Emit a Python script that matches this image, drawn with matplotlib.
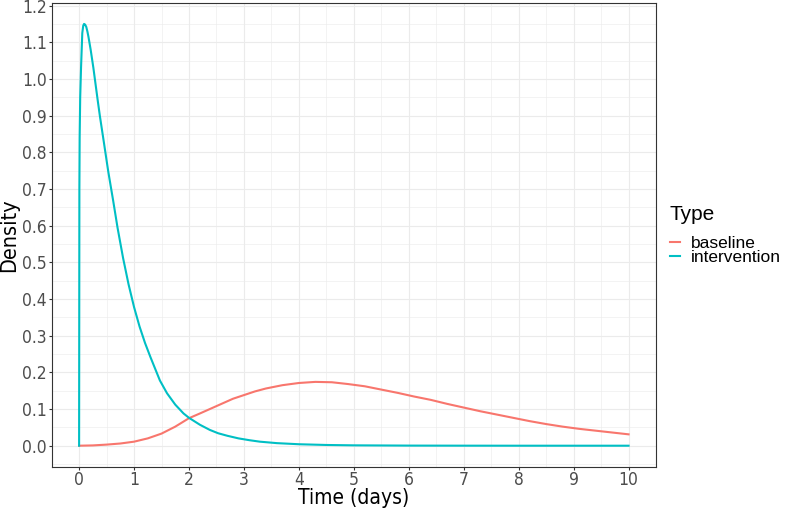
import numpy as np
import matplotlib.pyplot as plt
from matplotlib.ticker import MultipleLocator

plt.rcParams['font.family'] = ['Liberation Sans Narrow', 'DejaVu Sans']
plt.rcParams['font.stretch'] = 'condensed'

# values
t_base = [0, 0.25, 0.5, 0.75, 1.0, 1.25, 1.5, 1.75, 2.0, 2.2, 2.5, 2.8, 3.0, 3.2, 3.4,
          3.7, 4.0, 4.3, 4.6, 4.9, 5.2, 5.5, 5.8, 6.1, 6.4, 6.7, 7.0, 7.3, 7.6,
          7.9, 8.2, 8.5, 8.8, 9.1, 9.4, 9.7, 10.0]
y_base = [0, 0.0008, 0.003, 0.006, 0.011, 0.020, 0.033, 0.052, 0.075, 0.088, 0.108,
          0.128, 0.138, 0.148, 0.156, 0.165, 0.171, 0.174, 0.173, 0.168, 0.162,
          0.153, 0.144, 0.134, 0.125, 0.114, 0.104, 0.094, 0.085, 0.076, 0.067,
          0.059, 0.052, 0.046, 0.041, 0.036, 0.031]

t_int = [0, 0.005, 0.01, 0.02, 0.036, 0.058, 0.075, 0.09, 0.11, 0.13, 0.15, 0.17,
         0.21, 0.26, 0.30, 0.34, 0.38, 0.45, 0.53, 0.62, 0.70, 0.80, 0.90, 1.0,
         1.1, 1.2, 1.3, 1.47, 1.6, 1.75, 1.9, 2.0, 2.2, 2.38, 2.53, 2.7, 2.9, 3.1,
         3.29, 3.6, 4.0, 4.5, 5.0, 6.0, 7.0, 8.0, 9.0, 10.0]
y_int = [0, 0.70, 0.84, 0.95, 1.034, 1.125, 1.145, 1.15, 1.148, 1.142, 1.13, 1.115,
         1.08, 1.03, 0.985, 0.94, 0.897, 0.828, 0.748, 0.668, 0.594, 0.512, 0.44,
         0.378, 0.325, 0.28, 0.241, 0.178, 0.143, 0.112, 0.088, 0.076, 0.057, 0.043,
         0.034, 0.027, 0.020, 0.015, 0.011, 0.007, 0.004, 0.002, 0.001, 0.0003,
         0.0001, 0, 0, 0]

series = ['baseline', 'intervention']
colors = ['#F8766D', '#00BFC4']

plain = {'family': ['Liberation Sans', 'DejaVu Sans'], 'stretch': 'normal'}

fig = plt.figure(figsize=(7.87, 5.11), dpi=100)
ax = fig.add_axes([0.0656, 0.0865, 0.768, 0.908])

ax.plot(t_base, y_base, color=colors[0], lw=1.5, label=series[0])
ax.plot(t_int, y_int, color=colors[1], lw=1.5, label=series[1])

ax.set_xlim(-0.5, 10.5)
ax.set_ylim(-0.0575, 1.2075)
ax.xaxis.set_major_locator(MultipleLocator(1))
ax.xaxis.set_minor_locator(MultipleLocator(0.5))
ax.yaxis.set_major_locator(MultipleLocator(0.1))
ax.yaxis.set_minor_locator(MultipleLocator(0.05))
ax.yaxis.set_major_formatter(plt.FuncFormatter(lambda v, p: '%.1f' % v))

ax.grid(which='major', color='#EBEBEB', lw=0.8)
ax.grid(which='minor', color='#EBEBEB', lw=0.4)
ax.set_axisbelow(True)
for s in ax.spines.values():
    s.set_color('#333333')
    s.set_linewidth(0.8)
ax.tick_params(which='major', length=2.5, width=0.8, color='#333333',
               labelcolor='#4D4D4D', labelsize=12.5)
ax.tick_params(axis='x', pad=0.5)
ax.tick_params(axis='y', pad=1)
ax.tick_params(which='minor', length=0)

ax.set_xlabel('Time (days)', fontsize=15, va='center')
ax.xaxis.set_label_coords(0.5, -0.068)
ax.set_ylabel('Density', fontsize=15.5, va='center')
ax.yaxis.set_label_coords(-0.0705, 0.5)

# legend: title placed on its own, entries below it
fig.text(669 / 787, 1 - 214 / 511, 'Type', ha='left', va='center',
         fontproperties=dict(plain, size=15))
leg = fig.legend(loc='upper left', bbox_to_anchor=(670 / 787, 1 - 236 / 511),
                 frameon=False, borderpad=0, borderaxespad=0,
                 handlelength=0.6, handletextpad=0.6, labelspacing=-0.05,
                 prop=dict(plain, size=12.5))

fig.savefig('out.png', dpi=100)
